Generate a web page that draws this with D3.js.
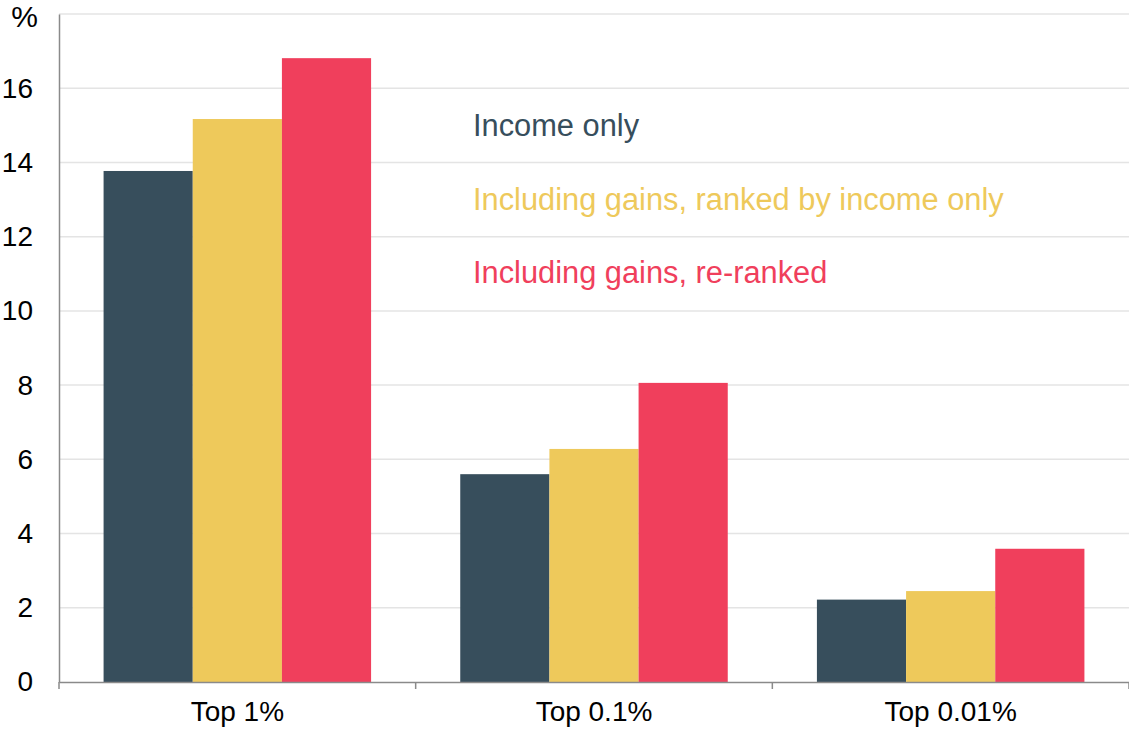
<!DOCTYPE html>
<meta charset="utf-8">
<style>
body { margin: 0; background: #fff; }
text { font-family: "Liberation Sans", Arial, sans-serif; }
.grid line { stroke: #e4e4e4; stroke-width: 1.5px; }
</style>
<svg width="1129" height="730"></svg>
<script src="https://cdnjs.cloudflare.com/ajax/libs/d3/7.8.5/d3.min.js"></script>
<script>

var categories = ["Top 1%", "Top 0.1%", "Top 0.01%"];
var seriesNames = ["Income only", "Including gains, ranked by income only", "Including gains, re-ranked"];
var incomeOnly = [13.77, 5.6, 2.22];
var gainsRankedByIncome = [15.17, 6.28, 2.45];
var gainsReRanked = [16.81, 8.06, 3.59];
var yTicks = [0, 2, 4, 6, 8, 10, 12, 14, 16];
var colors = ["#374e5c", "#eec95b", "#f03f5c"];

var svg = d3.select("svg"),
    margin = {left: 59, right: 0, top: 14, bottom: 48},
    width = +svg.attr("width") - margin.left - margin.right,
    height = +svg.attr("height") - margin.top - margin.bottom;

var values = [incomeOnly, gainsRankedByIncome, gainsReRanked];

var x = d3.scaleBand().domain(categories).range([0, width]).paddingInner(0).paddingOuter(0);
var x1 = d3.scaleBand().domain(d3.range(seriesNames.length))
    .range([x.bandwidth() * 0.125, x.bandwidth() * 0.875]);
var y = d3.scaleLinear().domain([0, 18]).range([height, 0]);

var g = svg.append("g").attr("transform", "translate(" + margin.left + "," + margin.top + ")");

// gridlines
g.append("g").attr("class", "grid")
  .selectAll("line")
  .data(yTicks.filter(function(d) { return d > 0; }).concat([18]))
  .enter().append("line")
    .attr("x1", 0).attr("x2", width)
    .attr("y1", function(d) { return y(d); })
    .attr("y2", function(d) { return y(d); });

// bars
var groups = g.selectAll(".cat")
  .data(categories)
  .enter().append("g")
    .attr("transform", function(d) { return "translate(" + x(d) + ",0)"; });

groups.selectAll("rect")
  .data(function(d, i) { return values.map(function(v, s) { return {s: s, v: v[i]}; }); })
  .enter().append("rect")
    .attr("x", function(d) { return x1(d.s); })
    .attr("width", x1.bandwidth())
    .attr("y", function(d) { return y(d.v); })
    .attr("height", function(d) { return y(0) - y(d.v); })
    .attr("fill", function(d) { return colors[d.s]; });

// y axis
var yAxis = g.append("g")
    .call(d3.axisLeft(y).tickValues(yTicks).tickSize(0).tickPadding(26));
yAxis.select(".domain").attr("stroke", "#8a8a8a").attr("stroke-width", 1.5);
yAxis.selectAll("text").attr("font-size", 28).attr("fill", "#000")
    .attr("font-family", "Liberation Sans, Arial, sans-serif");

// x axis
var xAxis = g.append("g")
    .attr("transform", "translate(0," + height + ")")
    .call(d3.axisBottom(x).tickSize(0).tickPadding(19));
xAxis.select(".domain").attr("stroke", "#8a8a8a").attr("stroke-width", 1.5);
xAxis.selectAll("text").attr("font-size", 28).attr("fill", "#000")
    .attr("font-family", "Liberation Sans, Arial, sans-serif");

// boundary ticks between categories
xAxis.selectAll(".sep")
  .data(categories.map(function(d) { return x(d); }).concat([width]))
  .enter().append("line")
    .attr("x1", function(d) { return d; }).attr("x2", function(d) { return d; })
    .attr("y1", 0).attr("y2", 7)
    .attr("stroke", "#8a8a8a").attr("stroke-width", 1.5);

// unit label
svg.append("text")
    .attr("x", 38).attr("y", 27)
    .attr("text-anchor", "end")
    .attr("font-size", 30)
    .text("%");

// legend
svg.append("g").selectAll("text")
  .data(seriesNames)
  .enter().append("text")
    .attr("x", 473)
    .attr("y", function(d, i) { return 136 + i * 73.5; })
    .attr("font-size", 30.8)
    .attr("fill", function(d, i) { return colors[i]; })
    .text(function(d) { return d; });

</script>
